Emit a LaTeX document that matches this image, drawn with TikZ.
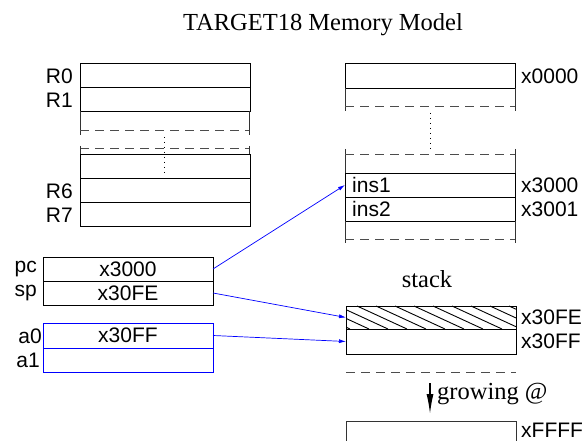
\documentclass[tikz,border=0pt]{standalone}
\usepackage{fontspec}
\setmainfont{Liberation Serif}
\newfontfamily\hv{Liberation Sans}
\usetikzlibrary{arrows.meta}
\begin{document}
\begin{tikzpicture}[x=1pt,y=-1pt,
 cell/.style={draw, rectangle, minimum width=170pt, minimum height=24pt, inner sep=0pt, outer sep=0pt, anchor=north west, line width=0.8pt, font=\hv\fontsize{21}{24}\selectfont},
 lbl/.style={inner sep=0pt, font=\hv\fontsize{21}{24}\selectfont},
 ser/.style={inner sep=0pt, font=\fontsize{24.5}{28}\selectfont},
 dsh/.style={draw=black!70, dash pattern=on 9pt off 6pt, line width=0.8pt},
 side/.style={draw=black!80, line width=0.8pt},
 dots/.style={draw=black, line width=0.8pt, dash pattern=on 1pt off 4pt},
 ptr/.style={draw=blue, line width=0.7pt, -{Latex[length=7pt,width=4pt]}},
]
\useasboundingbox (0,0) rectangle (582,441);

% title
\node[ser] (title) at (323,25) {TARGET18 Memory Model};

% ---- register file (left top)
\node[cell] (r0) at (80,63) {};
\node[cell] (r1) at (80,87) {};
\draw[side] (80,111) -- (80,135) (249,111) -- (249,135);
\draw[dsh] (80,130) -- (249,130);
\draw[dsh] (80,148) -- (249,148);
\draw[side] (80,146) -- (80,154) (249,146) -- (249,154);
\node[cell] (r5) at (80,154) {};
\node[cell] (r6) at (80,178) {};
\node[cell] (r7) at (80,202) {};
\draw[dots] (164,137) -- (164,174);
\node[lbl,anchor=east] (lr0) at (73,76) {R0};
\node[lbl,anchor=east] (lr1) at (73,100) {R1};
\node[lbl,anchor=east] (lr6) at (73,191) {R6};
\node[lbl,anchor=east] (lr7) at (73,215) {R7};

% ---- memory (right top)
\node[cell, minimum height=25pt] (m0) at (345,63) {};
\draw[side] (345,88) -- (345,111) (515,88) -- (515,111);
\draw[dsh] (345,106) -- (515,106);
\draw[dots] (430,113) -- (430,149);
\draw[side] (345,149) -- (345,173) (515,149) -- (515,173);
\draw[dsh] (345,154) -- (515,154);
\node[cell] (ins1) at (345,173) {};
\node[cell] (ins2) at (345,197) {};
\draw[side] (345,221) -- (345,243) (515,221) -- (515,243);
\draw[dsh] (345,239) -- (515,239);
\node[lbl,anchor=west] (tins1) at (352,185) {ins1};
\node[lbl,anchor=west] (tins2) at (352,209) {ins2};
\node[lbl,anchor=west] (a0000) at (521,76) {x0000};
\node[lbl,anchor=west] (a3000) at (521,185) {x3000};
\node[lbl,anchor=west] (a3001) at (521,209) {x3001};

% ---- pc / sp
\node[cell] (pc) at (43,257) {x3000};
\node[cell] (sp) at (43,281) {x30FE};
\node[lbl,anchor=east] (lpc) at (37,269) {pc};
\node[lbl,anchor=east] (lsp) at (37,293) {sp};

% ---- a0 / a1
\node[cell, draw=blue, minimum height=25pt] (a0) at (43,323) {x30FF};
\node[cell, draw=blue] (a1) at (43,348) {};
\node[lbl,anchor=east] (la0) at (42,336) {a0};
\node[lbl,anchor=east] (la1) at (40,360) {a1};

% ---- stack
\node[ser] (stk) at (427,279) {stack};
\begin{scope}
\clip (346,306) rectangle (516,329);
\foreach \x in {300,319,...,540} { \draw[line width=0.9pt] (\x,306) -- (\x+50,329); }
\end{scope}
\node[cell, minimum height=23pt] (s0) at (346,306) {};
\node[cell, minimum height=25pt] (s1) at (346,329) {};
\node[lbl,anchor=west] (a30fe) at (521,317) {x30FE};
\node[lbl,anchor=west] (a30ff) at (521,341) {x30FF};
\draw[dsh] (346,372) -- (516,372);
\coordinate (gtop) at (430,383);
\coordinate (gbot) at (430,414);
\draw[line width=1.4pt, -{Latex[length=20pt,width=7pt]}] (gtop) -- (gbot);
\node[ser,anchor=west] (grow) at (437,394) {growing @};
\draw[side] (346,441) -- (346,421) -- (516,421) -- (516,441);
\node[lbl,anchor=west] (affff) at (521,430) {xFFFF};

% ---- pointers
\draw[ptr] (pc.east) -- (ins1.west);
\draw[ptr] (sp.east) -- (s0.west);
\draw[ptr] (a0.east) -- (s1.west);
\end{tikzpicture}
\end{document}
